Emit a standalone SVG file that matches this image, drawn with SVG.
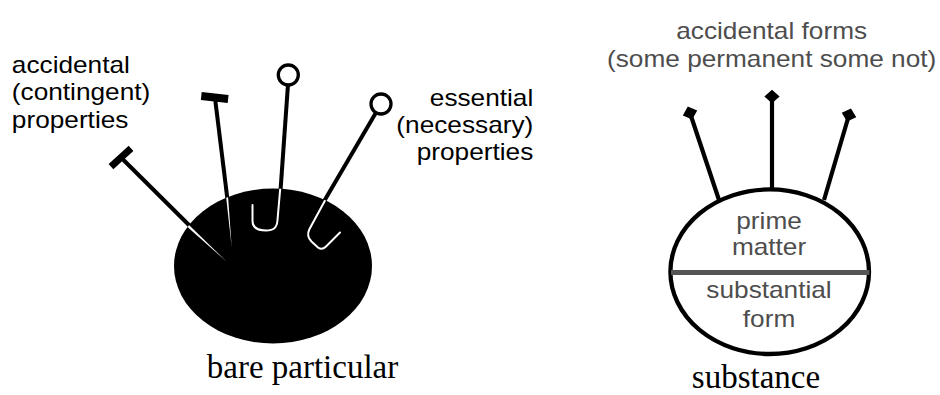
<svg xmlns="http://www.w3.org/2000/svg" width="940" height="395" viewBox="0 0 940 395">
<defs>
<style>
.sans{font-family:"Liberation Sans",Arial,Helvetica,sans-serif;font-size:23px;fill:#000}
.gray{fill:#4d4d4d}
.serif{font-family:"Liberation Serif","Times New Roman",serif;font-size:33px;fill:#000}
.shaft{stroke:#000;stroke-width:4;fill:none}
.hook{stroke:#fff;stroke-width:2;fill:none;stroke-linecap:round;stroke-linejoin:round}
.needle{fill:#fff}
.head{fill:#fff;stroke:#000;stroke-width:3.3}
.stem{stroke:#000;stroke-width:4.2;fill:none}
</style>
<clipPath id="bpclip"><ellipse cx="273" cy="266" rx="99" ry="77.5"/></clipPath>
<path id="dia" d="M0,-6.8 L7.6,0 L0,6.8 L-7.6,0Z"/>
</defs>
<rect width="940" height="395" fill="#fff"/>

<g id="labels" class="sans" transform="scale(1.14,1)">
<text x="10.4" y="72.7">accidental</text>
<text x="10.4" y="100.3">(contingent)</text>
<text x="10.4" y="128.3">properties</text>
<text x="467.8" y="106" text-anchor="end">essential</text>
<text x="467.8" y="133.5" text-anchor="end">(necessary)</text>
<text x="467.8" y="160.5" text-anchor="end">properties</text>
<g class="gray" text-anchor="middle">
<text x="676.9" y="39">accidental forms</text>
<text x="676.9" y="67.5">(some permanent some not)</text>
</g>
</g>

<g id="connectors">
<g id="pin-accidental-1">
<line class="shaft" x1="121" y1="157.5" x2="200" y2="236"/>
<rect x="-13.5" y="-3.5" width="27" height="7" transform="translate(121,157.5) rotate(-42)"/>
</g>
<g id="pin-accidental-2">
<line class="shaft" x1="215" y1="98" x2="229" y2="212"/>
<rect x="-13.5" y="-4" width="27" height="8" transform="translate(214.7,97.5) rotate(6)"/>
</g>
<g id="pin-essential-1">
<line class="shaft" x1="288.3" y1="80" x2="279.5" y2="205"/>
<circle class="head" cx="288.3" cy="75" r="10"/>
</g>
<g id="pin-essential-2">
<line class="shaft" x1="381" y1="104" x2="316" y2="215"/>
<circle class="head" cx="381" cy="104" r="10"/>
</g>
<g id="stem-left"><line class="stem" x1="719" y1="200" x2="690" y2="113"/><use href="#dia" transform="translate(690,113) rotate(-19)"/></g>
<g id="stem-center"><line class="stem" x1="772" y1="192" x2="772" y2="97"/><use href="#dia" transform="translate(772,96.5)"/></g>
<g id="stem-right"><line class="stem" x1="824" y1="200" x2="849" y2="115"/><use href="#dia" transform="translate(849,115) rotate(17)"/></g>
</g>

<g id="bare-particular">
<ellipse cx="273" cy="266" rx="99" ry="77.5" fill="#000"/>
<g clip-path="url(#bpclip)">
<polygon class="needle" points="184.1,223.9 185.9,222.1 227,262"/>
<polygon class="needle" points="227.2,184.9 224.8,185.1 231.7,247.3"/>
<path class="hook" d="M280.8,182 L277.5,220 C277,228 273.5,230.5 266,230.5 C258.5,230.5 252.5,228 252.5,221 L252.5,205"/>
<path class="hook" d="M328,195 L309.5,229 Q306,236 311.5,241.5 L318,247.5 Q322,250.5 326,246.5 L340,232.5"/>
</g>
<text class="serif" x="302.5" y="378.3" text-anchor="middle">bare particular</text>
</g>

<g id="substance">
<ellipse cx="769.7" cy="271.7" rx="99.3" ry="82.3" fill="#fff" stroke="#000" stroke-width="4.3"/>
<line x1="671" y1="272.5" x2="869.5" y2="272.5" stroke="#555" stroke-width="5"/>
<g class="sans gray" text-anchor="middle" transform="scale(1.14,1)">
<text x="674.6" y="229.3">prime</text>
<text x="674.6" y="255.3">matter</text>
<text x="674.6" y="297.7">substantial</text>
<text x="674.6" y="326.7">form</text>
</g>
<text class="serif" x="756" y="388" text-anchor="middle" font-size="32">substance</text>
</g>
</svg>
